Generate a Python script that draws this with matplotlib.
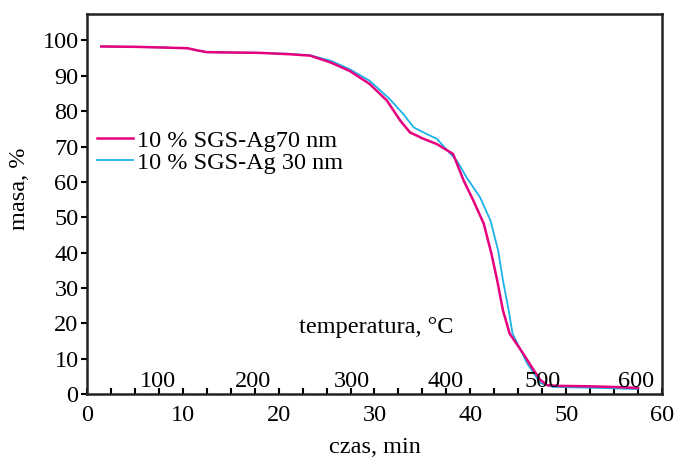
import matplotlib.pyplot as plt
import numpy as np

plt.rcParams['font.family'] = ['Liberation Serif', 'DejaVu Serif']
plt.rcParams['font.size'] = 17.5

# czas [min], masa [%]
t_70 = [1.5, 5, 8, 10.5, 11.5, 12.5, 15, 18, 21.2, 23.3, 25.4, 27.4, 29.5, 31.3,
        32.7, 33.7, 35.1, 36.5, 37.6, 38.2, 39.3, 40.3, 41.4, 42.2, 42.8, 43.4,
        44.1, 44.8, 45.5, 46.6, 47.3, 48.0, 49.1, 52, 54.9, 57.5]
m_70 = [98.3, 98.2, 98.0, 97.8, 97.2, 96.7, 96.6, 96.5, 96.1, 95.7, 93.8, 91.4,
        87.7, 83.0, 77.3, 74.0, 72.2, 70.7, 68.9, 67.9, 60.4, 54.8, 48.2, 39.7,
        32.2, 23.7, 17.1, 14.3, 11.5, 6.8, 4.0, 2.5, 2.3, 2.2, 2.0, 1.7]

t_30 = [1.5, 5, 8, 10.5, 11.5, 12.5, 15, 18, 21.2, 23.3, 25.4, 27.4, 29.5, 31.6,
        33.0, 34.1, 35.4, 36.5, 37.6, 38.6, 39.6, 41.0, 42.1, 42.9, 43.4, 44.0,
        44.4, 44.9, 45.9, 47.3, 48.6, 52, 55, 57.4]
m_30 = [98.3, 98.2, 98.0, 97.8, 97.2, 96.7, 96.6, 96.5, 96.2, 95.8, 94.3, 91.9,
        88.6, 83.4, 79.2, 75.4, 73.6, 72.2, 68.9, 66.0, 61.3, 55.7, 49.1, 40.6,
        32.2, 23.7, 17.1, 14.4, 8.8, 3.1, 2.0, 1.8, 1.6, 1.4]

# druga skala: temperatura
temp_labels = ['100', '200', '300', '400', '500', '600']
temp_pos = [7.4, 17.3, 27.6, 37.4, 47.5, 57.3]

fig = plt.figure(figsize=(6.79, 4.59), dpi=100)
ax = fig.add_axes([0.128, 0.1416, 0.847, 0.828])

ax.plot(t_70, m_70, color='#e6007e', lw=1.8, label='10 % SGS-Ag70 nm', zorder=3)
ax.plot(t_30, m_30, color='#1ab2e8', lw=1.3, label='10 % SGS-Ag 30 nm', zorder=2)

ax.set_xlim(0, 60)
ax.set_ylim(0, 107.5)
ax.set_xticks(np.arange(0, 61, 10))
ax.set_xticks(np.arange(0, 60, 2.5), minor=True)
ax.set_yticks(np.arange(0, 101, 10))
ax.tick_params(axis='x', which='both', direction='in', length=4, width=1.5, pad=8)
ax.tick_params(axis='y', direction='out', length=4, width=1.5, pad=2)
for s in ax.spines.values():
    s.set_linewidth(1.8)
    s.set_color('#222222')

for lab, x in zip(temp_labels, temp_pos):
    ax.text(x, 2.0, lab, ha='center', va='baseline')
ax.text(30.2, 17.2, 'temperatura, °C', ha='center', va='baseline')

ax.set_xlabel('czas, min')
ax.set_ylabel('masa, %')
ax.xaxis.set_label_coords(0.5, -0.112)
ax.yaxis.set_label_coords(-0.099, 0.54)

ax.legend(loc='center left', bbox_to_anchor=(0.017, 0.638), frameon=False,
          handlelength=1.5, handletextpad=0.15, labelspacing=0.0,
          borderpad=0, borderaxespad=0)

fig.savefig('out.png', dpi=100)
